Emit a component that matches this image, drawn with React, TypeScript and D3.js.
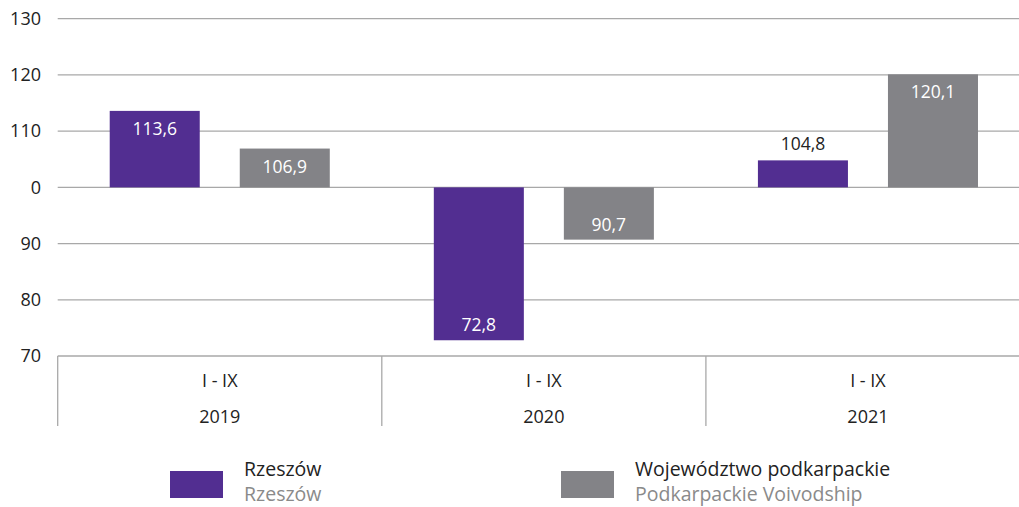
import React from "react";
import * as d3 from "d3";

const years = ["2019", "2020", "2021"];
const periodLabel = "I - IX";
const seriesNames = ["Rzeszów", "Województwo podkarpackie"];
const seriesNamesEn = ["Rzeszów", "Podkarpackie Voivodship"];
const rzeszowValues = [113.6, 72.8, 104.8];
const regionValues = [106.9, 90.7, 120.1];
const yTicks = [70, 80, 90, 100, 110, 120, 130];
const yTickLabels = ["70", "80", "90", "0", "110", "120", "130"];
const colors = ["#522e91", "#838387"];

const W = 1019;
const H = 507;
const baseline = 100;

export default function App() {
  const x = d3.scaleBand<string>().domain(years).range([57.7, 1030]).padding(0);
  const inner = d3
    .scaleBand<string>()
    .domain(["0", "1"])
    .range([0, x.bandwidth()])
    .paddingInner(0.3077)
    .paddingOuter(0.4);
  const y = d3.scaleLinear().domain([70, 130]).range([356, 18.7]);
  const fmt = (v: number) => v.toFixed(1).replace(".", ",");
  const font = "'Open Sans', 'Noto Sans', sans-serif";
  const series = [rzeszowValues, regionValues];

  return (
    <svg
      width={W}
      height={H}
      style={{ position: "absolute", left: 0, top: 0, background: "#fff" }}
      fontFamily={font}
    >
      {yTicks.map((t, i) => (
        <g key={t}>
          <line x1={57.7} x2={W} y1={y(t)} y2={y(t)} stroke="#a8a8a8" strokeWidth={1.3} />
          <text x={41} y={y(t)} dy="0.35em" textAnchor="end" fontSize={18} fill="#222">
            {yTickLabels[i]}
          </text>
        </g>
      ))}
      {years.map((yr) => (
        <line
          key={"v" + yr}
          x1={x(yr)!}
          x2={x(yr)!}
          y1={356}
          y2={426}
          stroke="#a8a8a8"
          strokeWidth={1.3}
        />
      ))}
      {years.map((yr) => (
        <g key={"l" + yr}>
          <text x={x(yr)! + x.bandwidth() / 2} y={381} dy="0.35em" textAnchor="middle" fontSize={18} fill="#222">
            {periodLabel}
          </text>
          <text x={x(yr)! + x.bandwidth() / 2} y={417} dy="0.35em" textAnchor="middle" fontSize={18} fill="#222">
            {yr}
          </text>
        </g>
      ))}
      {series.map((vals, si) =>
        vals.map((v, i) => {
          const bx = x(years[i])! + inner(String(si))!;
          const bw = inner.bandwidth();
          const top = Math.min(y(v), y(baseline));
          const h = Math.abs(y(v) - y(baseline));
          const up = v >= baseline;
          const inside = h > 35;
          let ty: number;
          let fill: string;
          if (inside) {
            ty = up ? y(v) + 18 : y(v) - 15;
            fill = "#fff";
          } else {
            ty = up ? y(v) - 16 : y(v) + 16;
            fill = "#222";
          }
          return (
            <g key={si + "-" + i}>
              <rect x={bx} y={top} width={bw} height={h} fill={colors[si]} />
              <text x={bx + bw / 2} y={ty} dy="0.35em" textAnchor="middle" fontSize={17.5} fill={fill}>
                {fmt(v)}
              </text>
            </g>
          );
        })
      )}
      {seriesNames.map((n, i) => {
        const lx = i === 0 ? 170 : 561;
        return (
          <g key={"lg" + i}>
            <rect x={lx} y={471} width={53} height={27} fill={colors[i]} />
            <text x={lx + 74} y={476} fontSize={19.5} fill="#222">
              {n}
            </text>
            <text x={lx + 74} y={501} fontSize={19.5} fill="#8a8a8a">
              {seriesNamesEn[i]}
            </text>
          </g>
        );
      })}
    </svg>
  );
}
